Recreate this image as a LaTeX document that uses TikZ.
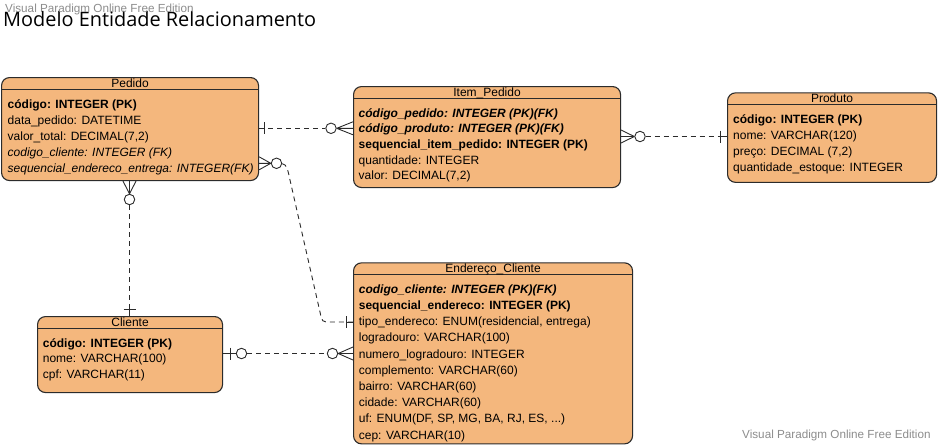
\documentclass[tikz,border=0pt]{standalone}
\usepackage{fontspec}
\setmainfont{Liberation Sans}
\newfontfamily\titlefont{Open Sans}
\definecolor{boxc}{HTML}{F4B77D}
\definecolor{linec}{HTML}{2B2B2B}
\definecolor{markc}{HTML}{8C8C8C}

\begin{document}
\begin{tikzpicture}[x=1pt, y=-1pt,
    entity/.style={draw=linec, fill=boxc, line width=1.1pt, rounded corners=8pt, anchor=north west, inner sep=0pt},
    divisor/.style={draw=linec, line width=1.1pt},
    head/.style={anchor=base, inner sep=0pt, font=\fontsize{12}{14}\selectfont},
    attr/.style={anchor=base west, inner sep=0pt, font=\fontsize{12}{14}\selectfont},
    rel/.style={draw=linec, line width=0.9pt, dash pattern=on 5pt off 4pt},
    foot/.style={draw=linec, line width=0.9pt},
    zero/.style={circle, draw=linec, fill=white, line width=0.9pt, minimum size=10.5pt, inner sep=0pt},
    wmark/.style={text=markc, anchor=base west, inner sep=0pt, font=\fontsize{11.7}{13}\selectfont}]
  \useasboundingbox (0,0) rectangle (940,445);

  \node[anchor=base west, inner sep=0pt, font=\titlefont\fontsize{19.9}{24}\selectfont] (titulo) at (3,26.7) {Modelo Entidade Relacionamento};
  \node[wmark] (marca1) at (5,12.5) {Visual Paradigm Online Free Edition};
  \node[wmark] (marca2) at (742,438.5) {Visual Paradigm Online Free Edition};

  % Pedido
  \node[entity, minimum width=257pt, minimum height=103pt] (pedido) at (1,77) {};
  \draw[divisor] ([yshift=-12.5pt]pedido.north west) -- ([yshift=-12.5pt]pedido.north east);
  \node[head] at ([yshift=-10.3pt]pedido.north) {Pedido};
  \foreach \t [count=\i from 0] in {\textbf{código: INTEGER (PK)}, data\_pedido: DATETIME, {valor\_total: DECIMAL(7,2)},
      \textit{codigo\_cliente: INTEGER (FK)}, \textit{sequencial\_endereco\_entrega: INTEGER(FK)}}
    \node[attr] at ([xshift=6.5pt, yshift={-31pt-\i*16pt}]pedido.north west) {\t};

  % Item_Pedido
  \node[entity, minimum width=267pt, minimum height=101pt] (itempedido) at (353,86) {};
  \draw[divisor] ([yshift=-12.5pt]itempedido.north west) -- ([yshift=-12.5pt]itempedido.north east);
  \node[head] at ([yshift=-10.3pt]itempedido.north) {Item\_Pedido};
  \foreach \t [count=\i from 0] in {\textbf{\textit{código\_pedido: INTEGER (PK)(FK)}}, \textbf{\textit{código\_produto: INTEGER (PK)(FK)}},
      \textbf{sequencial\_item\_pedido: INTEGER (PK)}, quantidade: INTEGER, {valor: DECIMAL(7,2)}}
    \node[attr] at ([xshift=5.5pt, yshift={-31pt-\i*15.7pt}]itempedido.north west) {\t};

  % Produto
  \node[entity, minimum width=209pt, minimum height=89.5pt] (produto) at (727,92.3) {};
  \draw[divisor] ([yshift=-12.5pt]produto.north west) -- ([yshift=-12.5pt]produto.north east);
  \node[head] at ([yshift=-10.3pt]produto.north) {Produto};
  \foreach \t [count=\i from 0] in {\textbf{código: INTEGER (PK)}, nome: VARCHAR(120), {preço: DECIMAL (7,2)}, quantidade\_estoque: INTEGER}
    \node[attr] at ([xshift=6pt, yshift={-31pt-\i*15.9pt}]produto.north west) {\t};

  % Cliente
  \node[entity, minimum width=185pt, minimum height=76pt] (cliente) at (37,316) {};
  \draw[divisor] ([yshift=-12.5pt]cliente.north west) -- ([yshift=-12.5pt]cliente.north east);
  \node[head] at ([yshift=-10.3pt]cliente.north) {Cliente};
  \foreach \t [count=\i from 0] in {\textbf{código: INTEGER (PK)}, nome: VARCHAR(100), cpf: VARCHAR(11)}
    \node[attr] at ([xshift=5.7pt, yshift={-31pt-\i*15.6pt}]cliente.north west) {\t};

  % Endereço_Cliente
  \node[entity, minimum width=279pt, minimum height=181pt] (endereco) at (353,262.3) {};
  \draw[divisor] ([yshift=-12.5pt]endereco.north west) -- ([yshift=-12.5pt]endereco.north east);
  \node[head] at ([yshift=-10.3pt]endereco.north) {Endereço\_Cliente};
  \foreach \t [count=\i from 0] in {\textbf{\textit{codigo\_cliente: INTEGER (PK)(FK)}}, \textbf{sequencial\_endereco: INTEGER (PK)},
      {tipo\_endereco: ENUM(residencial, entrega)}, logradouro: VARCHAR(100), numero\_logradouro: INTEGER,
      complemento: VARCHAR(60), bairro: VARCHAR(60), cidade: VARCHAR(60), {uf: ENUM(DF, SP, MG, BA, RJ, ES, ..{}.)}, cep: VARCHAR(10)}
    \node[attr] at ([xshift=5.7pt, yshift={-31pt-\i*16.2pt}]endereco.north west) {\t};

  % Pedido -- Item_Pedido
  \node[zero] (z1) at (331,128.3) {};
  \coordinate (a1) at (itempedido.west |- z1);
  \draw[rel] (pedido.east |- z1) -- (z1);
  \draw[foot] (pedido.east |- z1) -- ++(5.5,0) ++(0,-6) -- ++(0,12);
  \draw[foot] (z1.east) -- (a1) (z1.east) -- ([yshift=6.5pt]a1) (z1.east) -- ([yshift=-6.5pt]a1);

  % Item_Pedido -- Produto
  \node[zero] (z2) at (640,136.5) {};
  \coordinate (a2) at (itempedido.east |- z2);
  \draw[foot] (z2.west) -- (a2) (z2.west) -- ([yshift=6.5pt]a2) (z2.west) -- ([yshift=-6.5pt]a2);
  \draw[rel] (z2) -- (produto.west |- z2);
  \draw[foot] (produto.west |- z2) -- ++(-7,0) ++(0,-6) -- ++(0,12);

  % Pedido -- Cliente
  \node[zero] (z3) at (129.5,199.5) {};
  \coordinate (a3) at (pedido.south -| z3);
  \draw[foot] (z3.north) -- (a3) (z3.north) -- ([xshift=6.5pt]a3) (z3.north) -- ([xshift=-6.5pt]a3);
  \draw[rel] (z3) -- (cliente.north -| z3);
  \draw[foot] (cliente.north -| z3) -- ++(0,-7) ++(-6,0) -- ++(12,0);

  % Pedido -- Endereço_Cliente
  \node[zero] (z4) at (276.5,163.3) {};
  \coordinate (a4) at (pedido.east |- z4);
  \draw[foot] (z4.west) -- (a4) (z4.west) -- ([yshift=6.5pt]a4) (z4.west) -- ([yshift=-6.5pt]a4);
  \draw[rel] (z4) .. controls (287,164) and (288,171) .. (290,180) -- (320,312) .. controls (322,322) .. (331,322) -- (endereco.west |- 0,322);
  \draw[foot] (endereco.west |- 0,322) -- ++(-6.5,0) ++(0,-6) -- ++(0,12);

  % Cliente -- Endereço_Cliente
  \node[zero] (z5) at (241.5,353.5) {};
  \node[zero] (z6) at (332.5,353.5) {};
  \coordinate (a6) at (endereco.west |- z6);
  \draw[foot] (cliente.east |- z5) -- (z5);
  \draw[foot] (cliente.east |- z5) ++(7,-6) -- ++(0,12);
  \draw[rel] (z5) -- (z6);
  \draw[foot] (z6.east) -- (a6) (z6.east) -- ([yshift=6.5pt]a6) (z6.east) -- ([yshift=-6.5pt]a6);
\end{tikzpicture}
\end{document}
